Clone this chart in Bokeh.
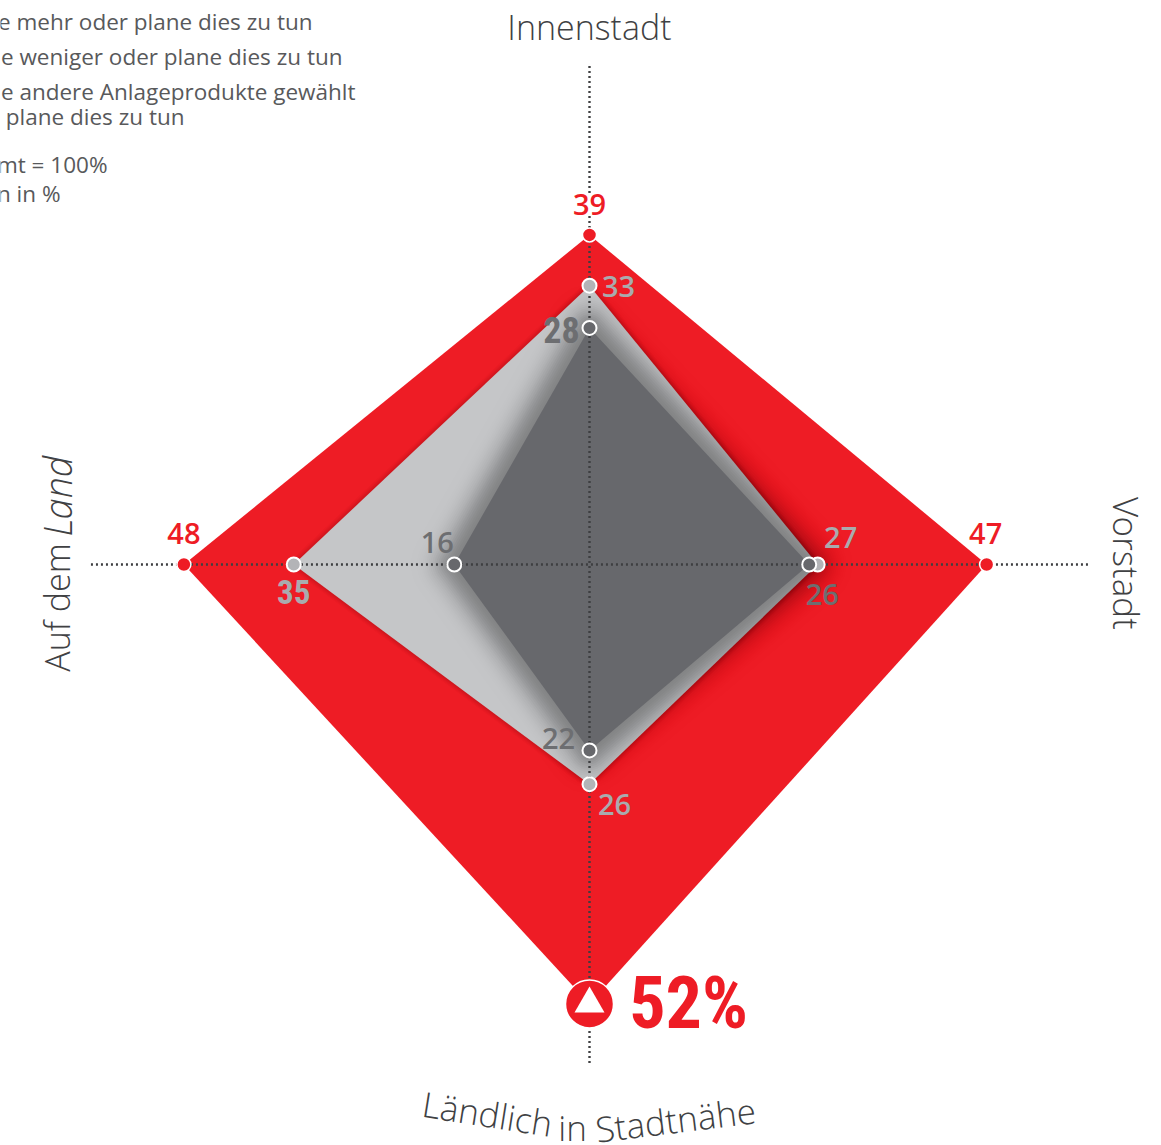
import math
from bokeh.plotting import figure
from bokeh.models import Range1d
from bokeh.core.properties import value
from bokeh.embed import file_html
from bokeh.resources import INLINE

# Values in the order Innenstadt, Vorstadt, Ländlich in Stadtnähe, Auf dem Land
red_values = [39, 47, 52, 48]
gray_values = [33, 27, 26, 35]
dark_values = [28, 26, 22, 16]
axis_reach = 59

legend_lines = ["e mehr oder plane dies zu tun", "e weniger oder plane dies zu tun",
                "e andere Anlageprodukte gewählt", "plane dies zu tun", "mt = 100%", "n in %"]

W, H = 1161, 1145
CX, CY, S = 589, 564, 8.45
RED, GRAY, DARK = "#EE1C25", "#C5C6C8", "#67686C"
GRAY_MARK, GRAY_TXT, DARK_TXT = "#B3B4B7", "#A9ABAE", "#6D6E71"
LABEL = "#404143"
LIGHT = "Open Sans Light"
REG = "Open Sans SemiBold"
BODY = "Open Sans"
NARROW = "Roboto Condensed"

p = figure(width=W, height=H, output_backend="svg", toolbar_location=None,
           x_range=Range1d(-CX / S, (W - CX) / S), y_range=Range1d(-(H - CY) / S, CY / S),
           min_border=0, outline_line_color=None, background_fill_color="white")
p.axis.visible = False
p.grid.visible = False


def px(x, y):
    return (x - CX) / S, (CY - y) / S


def verts(v):
    return [0, v[1], 0, -v[3]], [v[0], 0, -v[2], 0]


def grown(v, d):
    """Outline of the diamond grown by d pixels, with rounded corners."""
    xs, ys = verts(v)
    dd = d / S
    n = len(xs)
    ox, oy = [], []
    for i in range(n):
        xp, yp = xs[i - 1], ys[i - 1]
        x0, y0 = xs[i], ys[i]
        xn, yn = xs[(i + 1) % n], ys[(i + 1) % n]
        a0 = math.atan2(x0 - xp, -(y0 - yp))
        a1 = math.atan2(xn - x0, -(yn - y0))
        while a1 > a0:
            a1 -= 2 * math.pi
        for k in range(7):
            a = a0 + (a1 - a0) * k / 6
            ox.append(x0 + dd * math.cos(a))
            oy.append(y0 + dd * math.sin(a))
    return ox, oy


def shadow(v, peak, sigma, reach, layers):
    target = lambda d: peak * math.exp(-(d / sigma) ** 2)
    prev = 0.0
    for i in range(layers, 0, -1):
        d = reach * i / layers
        t = target(d)
        a = 1 - (1 - t) / (1 - prev)
        prev = t
        ox, oy = grown(v, d)
        p.patch(ox, oy, fill_color="black", fill_alpha=a, line_color=None)


rx, ry = verts(red_values)
p.patch(rx, ry, fill_color=RED, line_color=None)
shadow(gray_values, 0.13, 3.5, 8, 8)
gx, gy = verts(gray_values)
p.patch(gx, gy, fill_color=GRAY, line_color=None)
shadow(dark_values, 0.3, 20, 44, 22)
dx, dy = verts(dark_values)
p.patch(dx, dy, fill_color=DARK, line_color=None)

# dotted cross
p.line([-axis_reach, axis_reach], [0, 0], line_color="#3E3F41", line_width=2.4, line_dash="2 3")
p.line([0, 0], [-axis_reach, axis_reach], line_color="#3E3F41", line_width=2.4, line_dash="2 3")


def value_label(x, y, txt, color, font, size, xo, yo, style="normal", bg=None):
    kw = dict(background_fill_color=bg) if bg else {}
    p.text([x], [y], text=[txt], text_color=color, text_font=value(font), text_font_size=f"{size}px",
           text_font_style=style, text_align="center", text_baseline="middle",
           x_offset=xo, y_offset=yo, **kw)


# markers
red_x, red_y = verts(red_values)
p.scatter(red_x[:2] + red_x[3:], red_y[:2] + red_y[3:], size=14, fill_color=RED, line_color="white", line_width=1.5)
p.scatter(gx, gy, size=14, fill_color=GRAY_MARK, line_color="white", line_width=2)
p.scatter(dx, dy, size=14, fill_color=DARK, line_color="white", line_width=2)
p.scatter([0], [-red_values[2]], size=48, fill_color=RED, line_color="white", line_width=1.5)
p.scatter([0], [-red_values[2]], marker="triangle", size=30, fill_color="white", line_color=None)

# value labels
value_label(0, red_values[0], str(red_values[0]), RED, REG, 29, 0, -30, "normal", "white")
value_label(red_values[1], 0, str(red_values[1]), RED, REG, 29, -1, -31)
value_label(-red_values[3], 0, str(red_values[3]), RED, REG, 29, 0, -31)
value_label(0, -red_values[2], f"{red_values[2]}%", RED, NARROW, 72, 99, 0, "bold")

value_label(0, gray_values[0], str(gray_values[0]), GRAY_TXT, REG, 29, 29, 1)
value_label(gray_values[1], 0, str(gray_values[1]), GRAY_TXT, REG, 29, 23, -27)
value_label(0, -gray_values[2], str(gray_values[2]), GRAY_TXT, REG, 29, 25, 20)
value_label(-gray_values[3], 0, str(gray_values[3]), GRAY_TXT, NARROW, 33, 0, 27, "bold")

value_label(0, dark_values[0], str(dark_values[0]), DARK_TXT, NARROW, 36, -28, 2, "bold")
value_label(dark_values[1], 0, str(dark_values[1]), DARK_TXT, REG, 29, 13, 30)
value_label(0, -dark_values[2], str(dark_values[2]), DARK_TXT, REG, 29, -31, -12)
value_label(-dark_values[3], 0, str(dark_values[3]), DARK_TXT, REG, 29, -17, -22)


# axis titles
def title(cx, cy, txt, size, deg=0, style="normal"):
    x, y = px(cx, cy)
    p.text([x], [y], text=[txt], text_color=LABEL, text_font=value(LIGHT), text_font_size=f"{size}px",
           text_font_style=style, text_align="center", text_baseline="middle", angle=math.radians(deg))


title(589, 26, "Innenstadt", 34)
title(1126, 563, "Vorstadt", 35, -90)
title(56, 607, "Auf dem", 34, 90)
title(56, 496, "Land", 38, 90, "italic")
title(487, 1113, "Ländlich", 35, -9)
title(572, 1127, "in", 35, 0)
title(675, 1119, "Stadtnähe", 35, 7)

# legend fragments, cut by the left edge as in the source
legend_right = [312, 342, 355, 184, 107, 60]
legend_y = [21, 56, 91, 116, 164, 193]
for txt, xr, yc in zip(legend_lines, legend_right, legend_y):
    x, y = px(xr, yc)
    p.text([x], [y], text=[txt], text_color="#58595B", text_font=value(BODY), text_font_size="22.5px",
           text_align="right", text_baseline="middle")

open("out.html", "w").write(file_html(p, INLINE))
